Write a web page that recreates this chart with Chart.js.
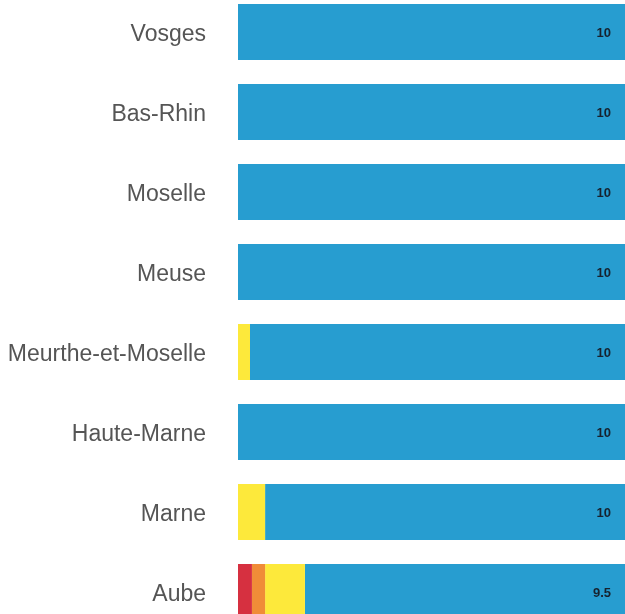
<!DOCTYPE html>
<html>
<head>
<meta charset="utf-8">
<script src="https://cdn.jsdelivr.net/npm/chart.js@4/dist/chart.umd.min.js"></script>
<style>
  html, body { margin: 0; padding: 0; background: #ffffff; overflow: hidden; width: 625px; height: 614px; }
  #wrap { position: absolute; left: 0; top: -8px; width: 625px; height: 640px; }
</style>
</head>
<body>
<div id="wrap"><canvas id="chart"></canvas></div>
<script>
// Departments (one bar each)
const departments = ['Vosges', 'Bas-Rhin', 'Moselle', 'Meuse', 'Meurthe-et-Moselle', 'Haute-Marne', 'Marne', 'Aube'];

// Share of each quality class, in percent of the bar
const shareRed    = [0, 0, 0, 0, 0, 0, 0, 3.6];
const shareOrange = [0, 0, 0, 0, 0, 0, 0, 3.4];
const shareYellow = [0, 0, 0, 0, 3.1, 0, 7.0, 10.3];
const shareBlue   = [100, 100, 100, 100, 96.9, 100, 93.0, 82.7];

// Score printed at the end of each bar
const scores = ['10', '10', '10', '10', '10', '10', '10', '9.5'];

const scoreLabels = {
  id: 'scoreLabels',
  afterDatasetsDraw(chart) {
    const { ctx, chartArea, scales } = chart;
    ctx.save();
    ctx.font = 'bold 13px "Liberation Sans", Arial, sans-serif';
    ctx.fillStyle = '#17222e';
    ctx.textAlign = 'right';
    ctx.textBaseline = 'middle';
    scores.forEach((s, i) => {
      const y = scales.y.getPixelForValue(i);
      ctx.fillText(s, chartArea.right - 14, y + 1);
    });
    ctx.restore();
  }
};

const mk = (data, color) => ({
  data, backgroundColor: color, borderWidth: 0,
  barPercentage: 0.7, categoryPercentage: 1.0
});

new Chart(document.getElementById('chart'), {
  type: 'bar',
  data: {
    labels: departments,
    datasets: [
      mk(shareRed, '#d63040'),
      mk(shareOrange, '#f08c38'),
      mk(shareYellow, '#fde93b'),
      mk(shareBlue, '#279dd0')
    ]
  },
  options: {
    indexAxis: 'y',
    responsive: true,
    maintainAspectRatio: false,
    animation: false,
    layout: { padding: 0 },
    plugins: { legend: { display: false }, tooltip: { enabled: false } },
    scales: {
      x: {
        stacked: true, min: 0, max: 100, display: false
      },
      y: {
        stacked: true,
        grid: { display: false, drawTicks: false },
        border: { display: false },
        ticks: {
          color: '#555555',
          padding: 32,
          labelOffset: 3,
          font: { family: '"Liberation Sans", Arial, sans-serif', size: 23 }
        },
        afterFit(scale) {
          // fixed gutter for the department names, bars run edge to edge vertically
          scale.width = 238;
          scale.paddingTop = 0;
          scale.paddingBottom = 0;
        }
      }
    }
  },
  plugins: [scoreLabels]
});
</script>
</body>
</html>
